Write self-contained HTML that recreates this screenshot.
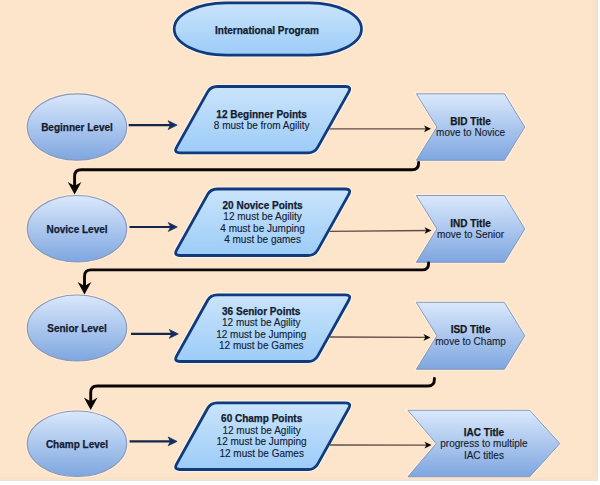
<!DOCTYPE html>
<html><head><meta charset="utf-8">
<style>
html,body{margin:0;padding:0;background:#fff;}
body{width:600px;height:485px;overflow:hidden;position:relative;}
svg{position:absolute;left:0;top:0;}
text{font-family:"Liberation Sans",sans-serif;font-size:10px;text-anchor:middle;}
.b{font-weight:bold;fill:#131C31;stroke:#131C31;stroke-width:0.25px;}
.pb{font-weight:bold;fill:#131C31;stroke:#131C31;stroke-width:0.25px;}
.pr{fill:#131C31;stroke:#131C31;stroke-width:0.12px;}
.cb{font-weight:bold;fill:#141720;stroke:#141720;stroke-width:0.25px;}
.cr{fill:#141c2c;stroke:#141c2c;stroke-width:0.12px;}
</style></head>
<body>
<svg width="600" height="485" viewBox="0 0 600 485">
<defs>
<linearGradient id="gEll" x1="0" y1="0" x2="0" y2="1"><stop offset="0" stop-color="#DAE8FC"/><stop offset="1" stop-color="#7EA6E0"/></linearGradient>
<linearGradient id="gChev" x1="0" y1="0" x2="0" y2="1"><stop offset="0" stop-color="#DAE8FC"/><stop offset="1" stop-color="#7EA6E0"/></linearGradient>
<linearGradient id="gPara" x1="0" y1="0" x2="0" y2="1"><stop offset="0" stop-color="#CAE4FB"/><stop offset="1" stop-color="#9CCCF8"/></linearGradient>
<linearGradient id="gTitle" x1="0" y1="0" x2="0" y2="1"><stop offset="0" stop-color="#CAE4FB"/><stop offset="1" stop-color="#9CCCF8"/></linearGradient>
</defs>
<rect x="0" y="0" width="598" height="481" fill="#FDE5CB"/>
<rect x="592" y="0" width="4.5" height="481" fill="#F7E3CA"/>
<rect x="596.5" y="0" width="1.5" height="481" fill="#EEDFD0"/>
<rect x="0" y="477" width="598" height="3" fill="#F8E2C8"/>
<rect x="0" y="480" width="598" height="1" fill="#EDE2D6"/>
<rect x="174.2" y="2.9" width="187.3" height="52.2" rx="52" ry="26.1" fill="none" stroke="#fff" stroke-opacity="0.45" stroke-width="5"/>
<rect x="174.2" y="2.9" width="187.3" height="52.2" rx="52" ry="26.1" fill="url(#gTitle)" stroke="#0F3A7E" stroke-width="2.7"/>
<text x="267" y="34" class="b">International Program</text>
<ellipse cx="77" cy="127" rx="49.7" ry="33.2" fill="none" stroke="#fff" stroke-opacity="0.4" stroke-width="3"/>
<ellipse cx="77" cy="127" rx="49.7" ry="33.2" fill="url(#gEll)" stroke="#8F98B0" stroke-width="1.15"/>
<text x="77" y="130.8" class="b">Beginner Level</text>
<line x1="128.7" y1="125.1" x2="173.1" y2="125.1" stroke="#14264A" stroke-width="2.1"/>
<path d="M177.1,125.1 L168.1,120.69999999999999 L170.5,125.1 L168.1,129.5 Z" fill="#122C60" stroke="#122C60" stroke-width="0.7" stroke-linejoin="miter"/>
<path d="M207.52,92.17 Q210.70,86.50 217.20,86.50 L345.30,86.50 Q351.80,86.50 348.62,92.17 L317.78,147.13 Q314.60,152.80 308.10,152.80 L180.00,152.80 Q173.50,152.80 176.68,147.13 Z" fill="none" stroke="#fff" stroke-opacity="0.45" stroke-width="5.199999999999999"/>
<path d="M207.52,92.17 Q210.70,86.50 217.20,86.50 L345.30,86.50 Q351.80,86.50 348.62,92.17 L317.78,147.13 Q314.60,152.80 308.10,152.80 L180.00,152.80 Q173.50,152.80 176.68,147.13 Z" fill="url(#gPara)" stroke="#0F3A7E" stroke-width="2.8"/>
<text x="261.65" y="117.90" class="pb">12 Beginner Points</text>
<text x="261.65" y="129.40" class="pr">8 must be from Agility</text>

<path d="M416.3,93.8 L504.4,93.8 L524.8,127.05000000000001 L504.4,160.3 L416.3,160.3 L436.90000000000003,127.05000000000001 Z" fill="none" stroke="#fff" stroke-opacity="0.4" stroke-width="3"/>
<path d="M416.3,93.8 L504.4,93.8 L524.8,127.05000000000001 L504.4,160.3 L416.3,160.3 L436.90000000000003,127.05000000000001 Z" fill="url(#gChev)" stroke="#8391AE" stroke-width="0.9"/>
<text x="470.55" y="124.80" class="cb">BID Title</text>
<text x="470.55" y="136.40" class="cr">move to Novice</text>

<line x1="329.5" y1="128.8" x2="428" y2="128.85" stroke="#5E4F46" stroke-width="1.3"/>
<path d="M431,128.85 L424,125.55 L425.8,128.85 L424,132.15 Z" fill="#0a0606"/>
<ellipse cx="77" cy="228.75" rx="49.7" ry="33.25" fill="none" stroke="#fff" stroke-opacity="0.4" stroke-width="3"/>
<ellipse cx="77" cy="228.75" rx="49.7" ry="33.25" fill="url(#gEll)" stroke="#8F98B0" stroke-width="1.15"/>
<text x="77" y="232.6" class="b">Novice Level</text>
<line x1="129.5" y1="227" x2="173.3" y2="227" stroke="#14264A" stroke-width="2.1"/>
<path d="M177.3,227 L168.3,222.6 L170.70000000000002,227 L168.3,231.4 Z" fill="#122C60" stroke="#122C60" stroke-width="0.7" stroke-linejoin="miter"/>
<path d="M207.53,194.67 Q210.70,189.00 217.20,189.00 L345.30,189.00 Q351.80,189.00 348.63,194.67 L317.77,249.83 Q314.60,255.50 308.10,255.50 L180.00,255.50 Q173.50,255.50 176.67,249.83 Z" fill="none" stroke="#fff" stroke-opacity="0.45" stroke-width="5.199999999999999"/>
<path d="M207.53,194.67 Q210.70,189.00 217.20,189.00 L345.30,189.00 Q351.80,189.00 348.63,194.67 L317.77,249.83 Q314.60,255.50 308.10,255.50 L180.00,255.50 Q173.50,255.50 176.67,249.83 Z" fill="url(#gPara)" stroke="#0F3A7E" stroke-width="2.8"/>
<text x="262.55" y="208.80" class="pb">20 Novice Points</text>
<text x="262.55" y="220.30" class="pr">12 must be Agility</text>
<text x="262.55" y="231.80" class="pr">4 must be Jumping</text>
<text x="262.55" y="243.30" class="pr">4 must be games</text>

<path d="M416.3,195.5 L504.4,195.5 L524.8,228.9 L504.4,262.3 L416.3,262.3 L436.90000000000003,228.9 Z" fill="none" stroke="#fff" stroke-opacity="0.4" stroke-width="3"/>
<path d="M416.3,195.5 L504.4,195.5 L524.8,228.9 L504.4,262.3 L416.3,262.3 L436.90000000000003,228.9 Z" fill="url(#gChev)" stroke="#8391AE" stroke-width="0.9"/>
<text x="470.55" y="226.80" class="cb">IND Title</text>
<text x="470.55" y="238.40" class="cr">move to Senior</text>

<line x1="329.5" y1="231.4" x2="428.5" y2="230.5" stroke="#5E4F46" stroke-width="1.3"/>
<path d="M431.5,230.5 L424.5,227.2 L426.3,230.5 L424.5,233.8 Z" fill="#0a0606"/>
<ellipse cx="77" cy="328" rx="49.7" ry="33.0" fill="none" stroke="#fff" stroke-opacity="0.4" stroke-width="3"/>
<ellipse cx="77" cy="328" rx="49.7" ry="33.0" fill="url(#gEll)" stroke="#8F98B0" stroke-width="1.15"/>
<text x="77" y="331.8" class="b">Senior Level</text>
<line x1="131" y1="333.9" x2="174.3" y2="333.9" stroke="#14264A" stroke-width="2.1"/>
<path d="M178.3,333.9 L169.3,329.5 L171.70000000000002,333.9 L169.3,338.29999999999995 Z" fill="#122C60" stroke="#122C60" stroke-width="0.7" stroke-linejoin="miter"/>
<path d="M207.53,300.48 Q210.70,294.80 217.20,294.80 L345.30,294.80 Q351.80,294.80 348.63,300.48 L317.77,355.82 Q314.60,361.50 308.10,361.50 L180.00,361.50 Q173.50,361.50 176.67,355.82 Z" fill="none" stroke="#fff" stroke-opacity="0.45" stroke-width="5.199999999999999"/>
<path d="M207.53,300.48 Q210.70,294.80 217.20,294.80 L345.30,294.80 Q351.80,294.80 348.63,300.48 L317.77,355.82 Q314.60,361.50 308.10,361.50 L180.00,361.50 Q173.50,361.50 176.67,355.82 Z" fill="url(#gPara)" stroke="#0F3A7E" stroke-width="2.8"/>
<text x="261.25" y="314.80" class="pb">36 Senior Points</text>
<text x="261.25" y="326.30" class="pr">12 must be Agility</text>
<text x="261.25" y="337.80" class="pr">12 must be Jumping</text>
<text x="261.25" y="349.30" class="pr">12 must be Games</text>

<path d="M416.3,302.3 L504.4,302.3 L524.8,335.8 L504.4,369.3 L416.3,369.3 L436.90000000000003,335.8 Z" fill="none" stroke="#fff" stroke-opacity="0.4" stroke-width="3"/>
<path d="M416.3,302.3 L504.4,302.3 L524.8,335.8 L504.4,369.3 L416.3,369.3 L436.90000000000003,335.8 Z" fill="url(#gChev)" stroke="#8391AE" stroke-width="0.9"/>
<text x="470.55" y="333.40" class="cb">ISD Title</text>
<text x="470.55" y="345.00" class="cr">move to Champ</text>

<line x1="329.5" y1="337" x2="427.5" y2="337.4" stroke="#5E4F46" stroke-width="1.3"/>
<path d="M430.5,337.4 L423.5,334.09999999999997 L425.3,337.4 L423.5,340.7 Z" fill="#0a0606"/>
<ellipse cx="77" cy="443.75" rx="49.7" ry="32.75" fill="none" stroke="#fff" stroke-opacity="0.4" stroke-width="3"/>
<ellipse cx="77" cy="443.75" rx="49.7" ry="32.75" fill="url(#gEll)" stroke="#8F98B0" stroke-width="1.15"/>
<text x="77" y="447.5" class="b">Champ Level</text>
<line x1="129.6" y1="441.4" x2="173.1" y2="441.4" stroke="#14264A" stroke-width="2.1"/>
<path d="M177.1,441.4 L168.1,437.0 L170.5,441.4 L168.1,445.79999999999995 Z" fill="#122C60" stroke="#122C60" stroke-width="0.7" stroke-linejoin="miter"/>
<path d="M207.53,408.48 Q210.70,402.80 217.20,402.80 L345.30,402.80 Q351.80,402.80 348.63,408.48 L317.77,463.82 Q314.60,469.50 308.10,469.50 L180.00,469.50 Q173.50,469.50 176.67,463.82 Z" fill="none" stroke="#fff" stroke-opacity="0.45" stroke-width="5.199999999999999"/>
<path d="M207.53,408.48 Q210.70,402.80 217.20,402.80 L345.30,402.80 Q351.80,402.80 348.63,408.48 L317.77,463.82 Q314.60,469.50 308.10,469.50 L180.00,469.50 Q173.50,469.50 176.67,463.82 Z" fill="url(#gPara)" stroke="#0F3A7E" stroke-width="2.8"/>
<text x="261.65" y="422.20" class="pb">60 Champ Points</text>
<text x="261.65" y="433.70" class="pr">12 must be Agility</text>
<text x="261.65" y="445.20" class="pr">12 must be Jumping</text>
<text x="261.65" y="456.70" class="pr">12 must be Games</text>

<path d="M407.9,410.3 L529.6999999999999,410.3 L559.9,443.55 L529.6999999999999,476.8 L407.9,476.8 L436.2,443.55 Z" fill="none" stroke="#fff" stroke-opacity="0.4" stroke-width="3"/>
<path d="M407.9,410.3 L529.6999999999999,410.3 L559.9,443.55 L529.6999999999999,476.8 L407.9,476.8 L436.2,443.55 Z" fill="url(#gChev)" stroke="#8391AE" stroke-width="0.9"/>
<text x="483.90" y="435.80" class="cb">IAC Title</text>
<text x="483.90" y="447.40" class="cr">progress to multiple</text>
<text x="483.90" y="459.00" class="cr">IAC titles</text>

<line x1="329.5" y1="445" x2="428.5" y2="445.1" stroke="#5E4F46" stroke-width="1.3"/>
<path d="M431.5,445.1 L424.5,441.8 L426.3,445.1 L424.5,448.40000000000003 Z" fill="#0a0606"/>
<path d="M418.6,162.5 L418.6,163.25 Q418.6,169.75 412.1,169.75 L81.1,169.75 Q74.6,169.75 74.6,176.25 L74.6,188.5" fill="none" stroke="#0a0606" stroke-width="2.9" stroke-linecap="round"/>
<path d="M74.6,194.5 L67.8,182.0 L74.6,186.0 L81.39999999999999,182.0 Z" fill="#0a0606"/>
<path d="M428.6,263 L428.6,263.4 Q428.6,269.9 422.1,269.9 L91.0,269.9 Q84.5,269.9 84.5,276.4 L84.5,288.5" fill="none" stroke="#0a0606" stroke-width="2.9" stroke-linecap="round"/>
<path d="M84.5,294.5 L77.7,282.0 L84.5,286.0 L91.3,282.0 Z" fill="#0a0606"/>
<path d="M434.4,378.5 L434.4,379.5 Q434.4,386 427.9,386 L97.2,386 Q90.7,386 90.7,392.5 L90.7,404" fill="none" stroke="#0a0606" stroke-width="2.9" stroke-linecap="round"/>
<path d="M90.7,410 L83.9,397.5 L90.7,401.5 L97.5,397.5 Z" fill="#0a0606"/>
</svg>
</body></html>
